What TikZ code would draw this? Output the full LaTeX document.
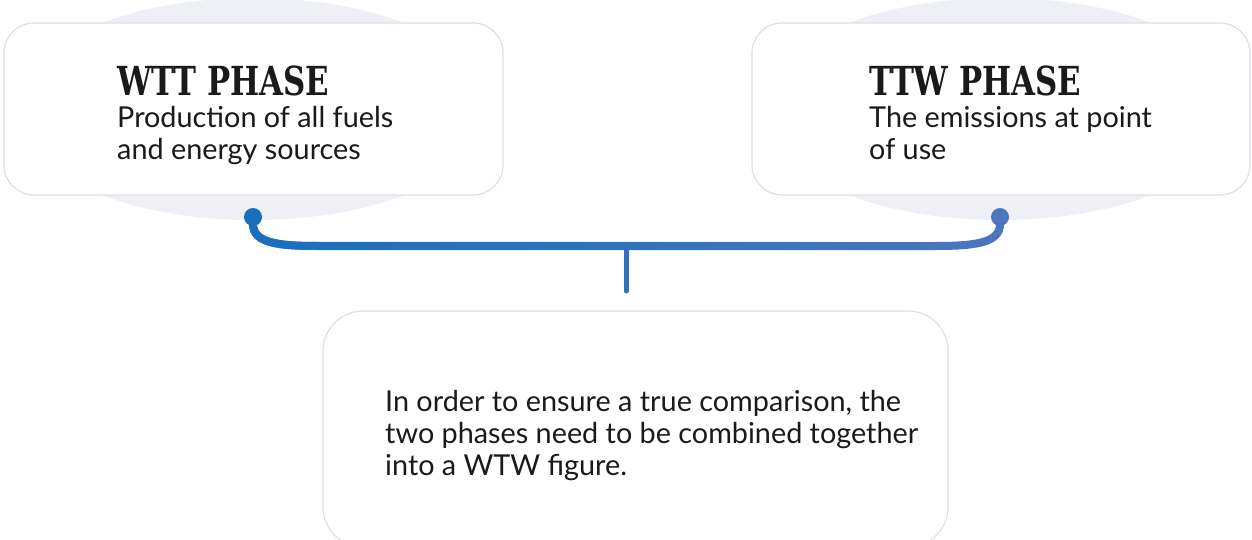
\documentclass[tikz,border=0pt]{standalone}
\usepackage{fontspec}
\setmainfont{Lato}
\newfontfamily\headfont{DejaVu Serif}[FakeStretch=0.77]
\usetikzlibrary{fadings}
\definecolor{ink}{HTML}{1A1A1A}
\definecolor{halo}{HTML}{EFEFF6}
\definecolor{cardedge}{HTML}{DFDFE5}
\definecolor{blueL}{HTML}{1A6FBD}
\definecolor{blueR}{HTML}{4A77BF}
\definecolor{blueM}{HTML}{2E72BE}
\tikzfading[name=solidleft, left color=transparent!0, right color=transparent!100]
\begin{document}
\begin{tikzpicture}[x=1pt,y=-1pt,
  halo blob/.style={fill=halo, draw=none},
  card/.style={draw=cardedge, line width=1.2pt, fill=white, rounded corners=30pt, inner sep=0pt},
  headtxt/.style={anchor=base west, inner sep=0pt, text=ink,
    font=\headfont\bfseries\fontsize{40}{44}\selectfont},
  bodytxt/.style={anchor=base west, inner sep=0pt, text=ink,
    font=\fontsize{28.8}{32}\selectfont},
  enddot/.style={circle, inner sep=0pt, minimum size=18pt},
  hook/.style={line width=8pt}
]
\useasboundingbox (0,0) rectangle (1252,540);
\fill[white] (0,0) rectangle (1252,540);

% soft halos behind the two phase cards
\fill[halo blob] (253,109) ellipse [x radius=240, y radius=111];
\fill[halo blob] (1000,109) ellipse [x radius=240, y radius=111];

% cards
\node[card, minimum width=499pt, minimum height=172pt] (wtt) at (253.5,109) {};
\node[card, minimum width=498pt, minimum height=172pt] (ttw) at (1001,109) {};
\node[card, rounded corners=40pt, minimum width=625pt, minimum height=236pt] (wtw) at (635.5,429) {};

% card texts
\node[headtxt] (wtt-title) at (117,96) {WTT PHASE};
\node[bodytxt] (wtt-body) at (117,128) {\begin{tabular}[t]{@{}l@{}}Production of all fuels\\and energy sources\end{tabular}};
\node[headtxt] (ttw-title) at (869,96) {TTW PHASE};
\node[bodytxt] (ttw-body) at (869,128) {\begin{tabular}[t]{@{}l@{}}The emissions at point\\of use\end{tabular}};
\node[bodytxt] (wtw-body) at (385,411) {\begin{tabular}[t]{@{}l@{}}In order to ensure a true comparison, the\\two phases need to be combined together\\into a WTW figure.\end{tabular}};

% bracket joining both phases
\node[enddot, fill=blueL] (wdot) at (253,217) {};
\node[enddot, fill=blueR] (tdot) at (1000,217) {};
\coordinate (stemTop) at (626,248);
\coordinate (stemEnd) at (626,291);

\draw[hook, blueR] (wdot.center) -- (253,224) .. controls (253,243) and (278,246) .. (318,246)
  -- (935,246) .. controls (975,246) and (1000,243) .. (1000,224) -- (tdot.center);
\draw[hook, blueL, path fading=solidleft, fit fading=true] (wdot.center) -- (253,224) .. controls (253,243) and (278,246) .. (318,246)
  -- (935,246) .. controls (975,246) and (1000,243) .. (1000,224) -- (tdot.center);
\draw[line width=5pt, line cap=round, blueM] (stemTop) -- (stemEnd);
\end{tikzpicture}
\end{document}
